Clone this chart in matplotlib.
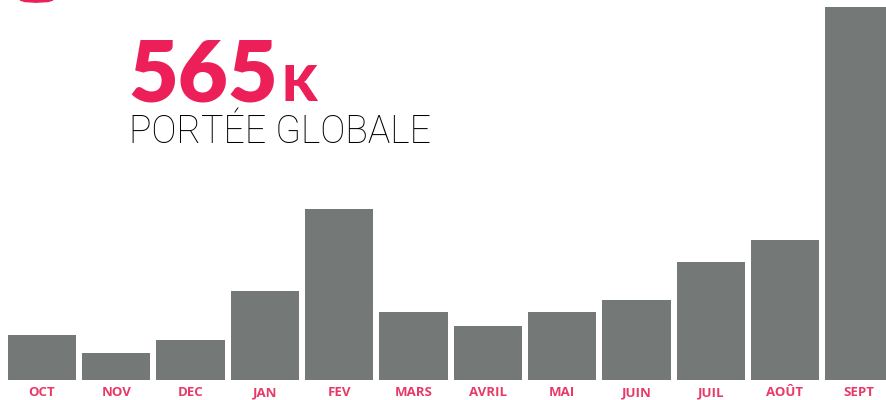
import numpy as np
import matplotlib.pyplot as plt
from matplotlib.patches import Polygon

################################
# Data
################################
months = ['OCT', 'NOV', 'DEC', 'JAN', 'FEV', 'MARS', 'AVRIL', 'MAI', 'JUIN', 'JUIL', 'AOÛT', 'SEPT']
reach = [45, 27, 40, 89, 171, 68, 54, 68, 80, 118, 140, 373]
headline = '565'
headline_unit = 'K'
subtitle = 'PORTÉE GLOBALE'

pink = '#ed1f59'
label_pink = '#e83a68'
bar_gray = '#747877'

################################
# Plot
################################
W, H = 887, 400
fig = plt.figure(figsize=(W / 100, H / 100), dpi=100)
ax = fig.add_axes([0, 0, 1, 1])
x = np.arange(len(months))
ax.bar(x, reach, width=0.92, color=bar_gray)

# pixel mapping: bar centers at 42 + i*74.3 px, baseline at 380 px from top
px = 74.3
ax.set_xlim(-42 / px, (W - 42) / px)
ax.set_ylim(-20, 380)
ax.axis('off')

for i, m in enumerate(months):
    ax.text(i, -13, m, ha='center', va='center', fontsize=9.5,
            fontweight='bold', color=label_pink, family='Open Sans')

# headline
fig.text(128 / W, 1 - 101 / H, headline, fontsize=62, fontweight='heavy',
         color=pink, family='Lato', ha='left', va='baseline')
fig.text(282 / W, 1 - 101 / H, headline_unit, fontsize=36, fontweight='heavy',
         color=pink, family='Lato', ha='left', va='baseline')
fig.text(129 / W, 1 - 143 / H, subtitle, fontsize=27, fontweight='light',
         color='black', family='Roboto', ha='left', va='baseline')

# small red mark at top left
pts = [(20, 0), (53, 0), (48, 1.5), (36, 2.2), (25, 1.5)]
fig.add_artist(Polygon([(a / W, 1 - b / H) for a, b in pts], closed=True,
                       color=pink, transform=fig.transFigure))

fig.savefig('out.png', dpi=100)
